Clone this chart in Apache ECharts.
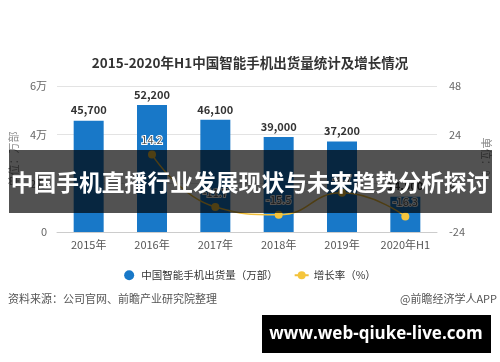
<!DOCTYPE html>
<html>
  <head>
    <meta charset="UTF-8" />
    <title>智能手机出货量</title>
    <script src="https://cdn.jsdelivr.net/npm/echarts@6/dist/echarts.min.js"></script>
    <style>
      html,
      body {
        margin: 0;
        padding: 0;
        background: #fff;
      }
      #main {
        width: 500px;
        height: 362px;
      }
    </style>
  </head>
  <body>
    <div id="main"></div>
    <script>
      var years = ["2015年", "2016年", "2017年", "2018年", "2019年", "2020年H1"];
      var shipments = [45700, 52200, 46100, 39000, 37200, 14500];
      var growth = [null, 14.2, -11.7, -15.5, -4.7, -16.3];
      var leftTicks = { 0: "0", 20000: "2万", 40000: "4万", 60000: "6万" };

      var font = "'Noto Sans CJK SC', 'Noto Sans', sans-serif";

      function thousands(v) {
        return String(v).replace(/\B(?=(\d{3})+(?!\d))/g, ",");
      }

      var myChart = echarts.init(document.getElementById("main"));
      var option = {
        backgroundColor: "#fff",
        textStyle: { fontFamily: font },
        title: {
          text: "2015-2020年H1中国智能手机出货量统计及增长情况",
          left: "center",
          top: 51,
          textStyle: {
            fontSize: 13.5,
            fontWeight: "bold",
            color: "#333",
            fontFamily: font,
          },
        },
        legend: {
          top: 265,
          left: "center",
          itemGap: 16,
          itemWidth: 14,
          itemHeight: 10,
          textStyle: { fontSize: 10.5, color: "#333", fontFamily: font },
          data: [
            { name: "中国智能手机出货量（万部）", icon: "circle" },
            { name: "增长率（%）" },
          ],
        },
        grid: {
          left: 56,
          right: 60,
          top: 86,
          bottom: 130,
        },
        xAxis: {
          type: "category",
          data: years,
          axisLine: { lineStyle: { color: "#ccc" } },
          axisTick: { alignWithLabel: true, lineStyle: { color: "#bbb" } },
          axisLabel: { color: "#555", fontSize: 11, margin: 7, interval: 0 },
        },
        yAxis: [
          {
            type: "value",
            min: 0,
            max: 60000,
            interval: 20000,
            name: "单位：万部",
            nameLocation: "middle",
            nameGap: 34,
            nameRotate: 90,
            nameTextStyle: { color: "#888", fontSize: 11 },
            axisLabel: {
              color: "#666",
              fontSize: 11,
              margin: 10,
              formatter: function (v) {
                return leftTicks[v];
              },
            },
            splitLine: { lineStyle: { color: "#e3e3e3" } },
          },
          {
            type: "value",
            min: -24,
            max: 48,
            interval: 24,
            name: "单位：%",
            nameLocation: "middle",
            nameGap: 44,
            nameRotate: 270,
            nameTextStyle: { color: "#888", fontSize: 11 },
            axisLabel: { color: "#666", fontSize: 11, margin: 12 },
            splitLine: { show: false },
          },
        ],
        series: [
          {
            name: "中国智能手机出货量（万部）",
            type: "bar",
            data: shipments,
            barWidth: 30,
            itemStyle: { color: "#1878c8" },
            label: {
              show: true,
              position: "top",
              color: "#333",
              fontWeight: "bold",
              fontSize: 11,
              formatter: function (p) {
                return thousands(p.value);
              },
            },
          },
          {
            name: "增长率（%）",
            type: "line",
            yAxisIndex: 1,
            data: growth,
            smooth: true,
            symbol: "circle",
            symbolSize: 8,
            lineStyle: { color: "#f1bf3b", width: 1.5 },
            itemStyle: { color: "#f5c53c" },
            label: {
              show: true,
              position: "top",
              color: "#555",
              fontSize: 11,
              textBorderColor: "#fff",
              textBorderWidth: 2,
            },
            z: 5,
          },
        ],
        graphic: [
          {
            type: "text",
            left: 8,
            top: 293,
            style: {
              text: "资料来源：公司官网、前瞻产业研究院整理",
              fill: "#555",
              fontSize: 11,
              fontFamily: font,
            },
          },
          {
            type: "text",
            right: 3,
            top: 293,
            style: {
              text: "@前瞻经济学人APP",
              fill: "#555",
              fontSize: 11,
              fontFamily: font,
            },
          },
          {
            type: "rect",
            z: 100,
            shape: { x: 9, y: 150, width: 483, height: 63 },
            style: { fill: "rgba(0,0,0,0.68)" },
          },
          {
            type: "text",
            z: 101,
            x: 250,
            y: 182,
            style: {
              text: "中国手机直播行业发展现状与未来趋势分析探讨",
              fill: "#fff",
              fontSize: 22.8,
              fontWeight: "bold",
              fontFamily: font,
              textAlign: "center",
              textVerticalAlign: "middle",
            },
          },
          {
            type: "rect",
            z: 100,
            shape: { x: 262, y: 315, width: 229, height: 38 },
            style: { fill: "#000" },
          },
          {
            type: "text",
            z: 101,
            x: 376,
            y: 334,
            style: {
              text: "www.web-qiuke-live.com",
              fill: "#fff",
              fontSize: 17,
              fontWeight: "bold",
              fontFamily: "'Open Sans', 'DejaVu Sans', sans-serif",
              textAlign: "center",
              textVerticalAlign: "middle",
            },
          },
        ],
      };
      myChart.setOption(option);
    </script>
  </body>
</html>
